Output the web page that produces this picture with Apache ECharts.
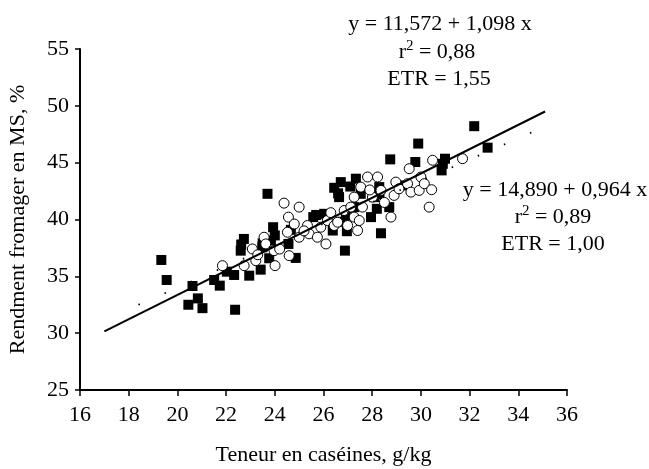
<!DOCTYPE html>
<html><head><meta charset="utf-8">
<script src="https://cdn.jsdelivr.net/npm/echarts@6/dist/echarts.min.js"></script>
<style>html,body{margin:0;padding:0;background:#fff}#c{width:649px;height:469px}</style>
</head><body><div id="c"></div>
<script>
const xTicks = [16, 36, 2];
const yTicks = [25, 55, 5];
const squares = [[19.34,36.44],[19.56,34.68],[20.62,34.15],[20.45,32.5],[20.84,33.06],[21.03,32.2],[21.51,34.68],[21.74,34.18],[22.03,35.41],[22.33,35.12],[22.37,32.06],[22.6,37.26],[22.73,38.29],[22.62,37.8],[22.95,35.06],[23.42,35.59],[23.49,37.56],[23.7,42.26],[23.77,36.59],[23.93,39.32],[23.84,38.15],[24.56,37.85],[24.66,39.09],[24.86,36.62],[25.58,40.21],[26.03,40.5],[26.38,39.03],[26.44,42.79],[26.71,43.29],[26.64,41.97],[26.88,37.26],[26.96,38.97],[26.92,40.35],[27.33,43.59],[27.26,41.09],[27.53,42.26],[27.95,40.21],[28.19,40.94],[28.36,38.79],[28.29,42.85],[28.74,45.29],[28.7,41.09],[29.38,43.0],[29.77,45.06],[29.89,46.68],[30.85,44.32],[30.99,45.35],[32.19,48.21],[32.74,46.32],[28.08,41.97],[26.6,42.3],[27.1,42.9],[28.3,42.2],[23.5,37.9],[24.0,38.6],[30.9,44.9],[26.8,39.8],[25.7,40.4],[27.0,40.8]];
const circles = [[21.85,35.94],[22.74,35.94],[23.08,37.41],[23.22,36.38],[23.56,38.44],[23.63,37.85],[24.01,35.94],[23.97,37.26],[24.38,41.44],[24.56,40.21],[24.59,36.82],[24.52,38.88],[25.0,41.09],[25.0,38.44],[25.34,39.47],[25.41,38.74],[25.75,38.44],[26.1,37.85],[25.89,39.32],[26.16,39.91],[26.44,39.47],[26.58,39.76],[26.85,40.79],[26.99,39.47],[27.12,41.09],[27.26,40.21],[27.4,39.03],[27.47,39.91],[27.26,41.97],[27.6,41.09],[27.53,42.85],[27.81,43.74],[28.22,43.74],[28.01,41.97],[28.36,42.56],[28.77,40.21],[28.9,42.12],[28.97,43.29],[29.45,43.15],[29.52,44.47],[29.59,42.41],[29.93,42.56],[30.0,43.74],[30.14,43.15],[30.34,41.09],[30.44,42.62],[30.48,45.21],[31.71,45.35],[23.3,36.9],[24.2,37.4],[24.8,39.6],[25.2,39.0],[26.3,40.6],[27.9,42.6],[28.5,41.5],[29.1,42.7]];
const solidLine = [[17,30.15],[35.1,49.5]];
const dottedLine = [[18.4,32.5],[34.75,47.85]];
const eq1 = ['y = 11,572 + 1,098 x', '0,88', 'ETR = 1,55'];
const eq2 = ['y = 14,890 + 0,964 x', '0,89', 'ETR = 1,00'];
const xName = 'Teneur en caséines, g/kg';
const yName = 'Rendment fromager en MS, %';

const F = 'Liberation Serif, Times New Roman, serif';
const FS = 22;
const chart = echarts.init(document.getElementById('c'));
function r2text(v){return '{a|r}{s|2}{a| = ' + v + '}';}
const rich = {a:{fontFamily:F,fontSize:FS,color:'#000'}, s:{fontFamily:F,fontSize:15,color:'#000',padding:[0,0,11,0]}};
function txt(x,y,t){return {type:'text',x:x,y:y,style:{text:t,fontFamily:F,fontSize:FS,fill:'#000',align:'center',verticalAlign:'middle'}};}
function r2(x,y,v){return {type:'text',x:x,y:y,style:{text:r2text(v),rich:rich,align:'center',verticalAlign:'middle'}};}
chart.setOption({
  animation:false,
  backgroundColor:'#fff',
  grid:{left:80,right:82,top:49,bottom:79,containLabel:false,outerBoundsMode:'none'},
  xAxis:{type:'value',min:xTicks[0],max:xTicks[1],interval:xTicks[2],
    name:xName,nameLocation:'middle',nameGap:54,nameTextStyle:{fontFamily:F,fontSize:FS,color:'#000'},
    axisLine:{lineStyle:{color:'#000',width:2}},axisTick:{length:6,lineStyle:{color:'#000',width:1.5}},
    axisLabel:{fontFamily:F,fontSize:FS,color:'#000',margin:14},splitLine:{show:false}},
  yAxis:{type:'value',min:yTicks[0],max:yTicks[1],interval:yTicks[2],
    name:yName,nameLocation:'middle',nameGap:51,nameTextStyle:{fontFamily:F,fontSize:FS,color:'#000'},
    axisLine:{show:true,lineStyle:{color:'#000',width:2}},axisTick:{show:true,length:5,lineStyle:{color:'#000',width:1.5}},
    axisLabel:{fontFamily:F,fontSize:FS,color:'#000',margin:11},splitLine:{show:false}},
  series:[
    {type:'scatter',data:squares,symbol:'rect',symbolSize:10,itemStyle:{color:'#000',opacity:1},z:2},
    {type:'scatter',data:circles,symbol:'circle',symbolSize:10,itemStyle:{color:'#fff',borderColor:'#000',borderWidth:1,opacity:1},z:3},
    {type:'line',data:solidLine,symbol:'none',lineStyle:{color:'#000',width:2},z:4},
    {type:'line',data:dottedLine,symbol:'none',lineStyle:{color:'#000',width:1.8,type:[1.5,27]},z:4}
  ],
  graphic:[
    txt(440,24,eq1[0]), r2(437,52,eq1[1]), txt(439,79,eq1[2]),
    txt(555,190,eq2[0]), r2(553,217,eq2[1]), txt(553,244,eq2[2])
  ]
});
</script></body></html>
